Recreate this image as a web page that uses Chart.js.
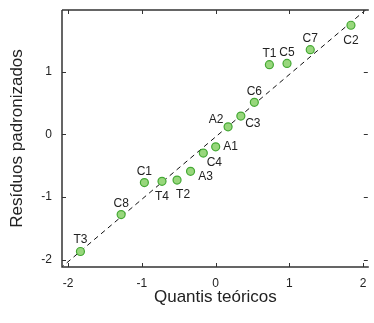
<!DOCTYPE html>
<html>
<head>
<meta charset="utf-8">
<script src="https://cdn.jsdelivr.net/npm/chart.js"></script>
<style>
  html, body { margin: 0; padding: 0; background: #fff; }
  #wrap { width: 374px; height: 323px; }
</style>
</head>
<body>
<div id="wrap"><canvas id="qq"></canvas></div>
<script>
// Sample names and values
const names = ["T3", "C8", "C1", "T4", "T2", "A3", "C4", "A1", "A2", "C3", "C6", "T1", "C5", "C7", "C2"];
const theoretical = [-1.834, -1.282, -0.967, -0.728, -0.524, -0.341, -0.168, 0, 0.168, 0.341, 0.524, 0.728, 0.967, 1.282, 1.834];
const residuals = [-1.87, -1.28, -0.77, -0.75, -0.73, -0.59, -0.30, -0.20, 0.12, 0.29, 0.51, 1.11, 1.13, 1.35, 1.74];

// Reference line ends (qq line)
const lineX = [-2.3, 2.3];
const lineY = [-2.33, 2.25];

const tickValues = [-2, -1, 0, 1, 2];

// label offsets in pixels from each point (dx, dy)
const labelOffsets = {
    T3: [0, -12], C8: [0, -11], C1: [0, -11], T4: [0, 15], T2: [6, 15],
    A3: [15, 5], C4: [11, 10], A1: [15, 0], A2: [-12, -7], C3: [12, 8],
    C6: [0, -11], T1: [0, -11], C5: [0, -11], C7: [0, -11], C2: [0, 15]
};

const FONT = "'Liberation Sans', Arial, Helvetica, sans-serif";

// Box with inward ticks on all sides
const frame = {
    id: 'frame',
    afterDatasetsDraw(chart) {
        const { ctx, chartArea: a, scales } = chart;
        ctx.save();
        ctx.strokeStyle = '#333';
        ctx.lineWidth = 1.5;
        ctx.beginPath();
        ctx.moveTo(a.left, a.top);
        ctx.lineTo(a.right, a.top);
        ctx.moveTo(a.left, a.top);
        ctx.lineTo(a.left, a.bottom);
        ctx.lineTo(a.right, a.bottom);
        ctx.stroke();
        ctx.lineWidth = 1;
        ctx.beginPath();
        tickValues.forEach(v => {
            const x = Math.round(scales.x.getPixelForValue(v)) + 0.5;
            ctx.moveTo(x, a.bottom); ctx.lineTo(x, a.bottom - 4);
            ctx.moveTo(x, a.top); ctx.lineTo(x, a.top + 4);
            const y = Math.round(scales.y.getPixelForValue(v)) + 0.5;
            if (y > a.top + 2 && y < a.bottom - 2) {
                ctx.moveTo(a.left, y); ctx.lineTo(a.left + 4, y);
                ctx.moveTo(a.right - 1, y); ctx.lineTo(a.right - 5, y);
            }
        });
        ctx.stroke();
        ctx.restore();
    }
};

// Point names
const pointLabels = {
    id: 'pointLabels',
    afterDatasetsDraw(chart) {
        const { ctx } = chart;
        const meta = chart.getDatasetMeta(1);
        ctx.save();
        ctx.font = '12px ' + FONT;
        ctx.fillStyle = '#222';
        ctx.textAlign = 'center';
        ctx.textBaseline = 'middle';
        meta.data.forEach((pt, i) => {
            const off = labelOffsets[names[i]] || [0, -11];
            ctx.fillText(names[i], pt.x + off[0], pt.y + off[1]);
        });
        ctx.restore();
    }
};

new Chart(document.getElementById('qq'), {
    type: 'scatter',
    data: {
        datasets: [{
            type: 'line',
            data: lineX.map((x, i) => ({ x: x, y: lineY[i] })),
            borderColor: '#111',
            borderWidth: 1,
            borderDash: [5, 4],
            pointRadius: 0,
            fill: false,
            order: 1
        }, {
            data: theoretical.map((x, i) => ({ x: x, y: residuals[i] })),
            backgroundColor: '#98d77c',
            borderColor: '#45a935',
            borderWidth: 1.2,
            pointRadius: 4,
            order: 0
        }]
    },
    options: {
        responsive: true,
        maintainAspectRatio: false,
        animation: false,
        layout: { padding: { top: 10, right: 0, left: 0, bottom: 0 } },
        plugins: {
            legend: { display: false },
            tooltip: { enabled: false }
        },
        scales: {
            x: {
                type: 'linear',
                min: -2.084,
                max: 2.076,
                afterBuildTicks: s => { s.ticks = tickValues.map(v => ({ value: v })); },
                afterFit: s => { s.height = 56; s.paddingLeft = 0; s.paddingRight = 0; },
                grid: { display: false, drawTicks: false },
                border: { display: false },
                ticks: {
                    padding: 9,
                    color: '#222',
                    font: { family: FONT, size: 12 },
                    callback: v => String(v)
                },
                title: {
                    display: true,
                    text: 'Quantis teóricos',
                    color: '#222',
                    font: { family: FONT, size: 17 },
                    padding: { top: 0, bottom: 15 }
                }
            },
            y: {
                type: 'linear',
                min: -2.117,
                max: 1.983,
                afterBuildTicks: s => { s.ticks = [-2, -1, 0, 1].map(v => ({ value: v })); },
                afterFit: s => { s.width = 62; s.paddingTop = 0; s.paddingBottom = 0; },
                grid: { display: false, drawTicks: false },
                border: { display: false },
                ticks: {
                    padding: 10,
                    color: '#222',
                    font: { family: FONT, size: 12 },
                    callback: v => String(v)
                },
                title: {
                    display: true,
                    text: 'Resíduos padronizados',
                    color: '#222',
                    font: { family: FONT, size: 17 },
                    padding: { top: 7, bottom: 0 }
                }
            }
        }
    },
    plugins: [frame, pointLabels]
});
</script>
</body>
</html>
